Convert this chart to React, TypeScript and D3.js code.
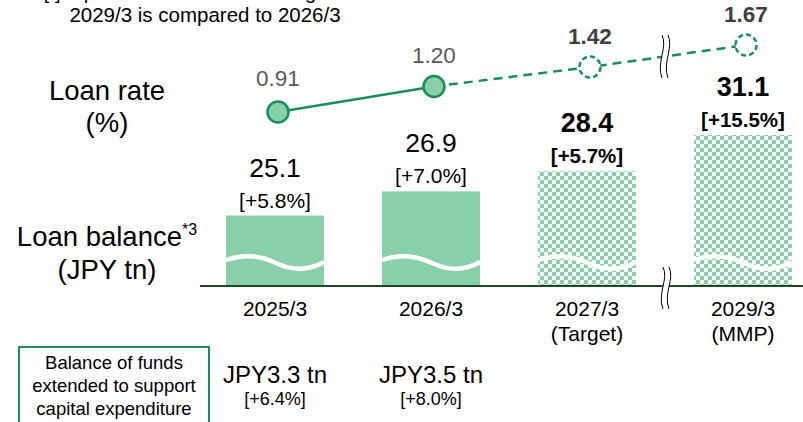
import { scaleLinear, scalePoint, line } from "d3";

const categories = ["2025/3", "2026/3", "2027/3", "2029/3"];
const subLabels = ["", "", "(Target)", "(MMP)"];
const balance = [25.1, 26.9, 28.4, 31.1];
const balanceChange = ["+5.8%", "+7.0%", "+5.7%", "+15.5%"];
const loanRate = [0.91, 1.2, 1.42, 1.67];
const isPlan = [false, false, true, true];
const capexFunds = ["JPY3.3 tn", "JPY3.5 tn"];
const capexChange = ["+6.4%", "+8.0%"];

const W = 803;
const H = 422;
const axisY = 286;
const barW = 98;
const green = "#1a8e59";
const fillGreen = "#89d0aa";
const font = "'Liberation Sans', Arial, sans-serif";

export default function App() {
  const x = scalePoint<string>(categories, [275, 743]);
  const yBar = scaleLinear([19.85, 31.1], [axisY, 135]);
  const yRate = scaleLinear([0.91, 1.67], [112, 45]);

  const pts = loanRate.map((v, i) => [x(categories[i])! + 3, yRate(v)] as [number, number]);
  const path = line();
  const solid = path(pts.slice(0, 2));
  const dashed = path(pts.slice(1));
  const xb = (x(categories[2])! + x(categories[3])!) / 2;

  const wave = "M0,-26 Q25,-35 50,-23 T98,-24";

  return (
    <svg width={W} height={H} style={{ position: "absolute", left: 0, top: 0 }} fontFamily={font}>
      <defs>
        <pattern id="checks" width={8} height={8} patternUnits="userSpaceOnUse">
          <rect width={8} height={8} fill="#fff" />
          <rect width={4} height={4} fill={fillGreen} />
          <rect x={4} y={4} width={4} height={4} fill={fillGreen} />
        </pattern>
      </defs>

      {/* note, first line is cut off at the top like in the slide */}
      <text x={205} y={-1} textAnchor="middle" fontSize={20}>
        [ ] represents the rate of change and
      </text>
      <text x={205} y={22} textAnchor="middle" fontSize={20.5}>
        2029/3 is compared to 2026/3
      </text>

      {/* left titles */}
      <text x={107} y={100} textAnchor="middle" fontSize={27.5}>Loan rate</text>
      <text x={107} y={132} textAnchor="middle" fontSize={27.5}>(%)</text>
      <text x={107} y={246} textAnchor="middle" fontSize={27.5}>
        Loan balance<tspan fontSize={16} dy={-11}>*3</tspan>
      </text>
      <text x={107} y={279} textAnchor="middle" fontSize={27.5}>(JPY tn)</text>

      {/* bars */}
      {balance.map((v, i) => {
        const cx = x(categories[i])!;
        const top = yBar(v);
        const bold = isPlan[i];
        return (
          <g key={categories[i]}>
            <rect x={cx - barW / 2} y={top} width={barW} height={axisY - top}
              fill={isPlan[i] ? "url(#checks)" : fillGreen} />
            <path d={wave} transform={`translate(${cx - barW / 2},${axisY})`}
              fill="none" stroke="#fff" strokeWidth={4.5} />
            <text x={cx} y={top - 39} textAnchor="middle" fontSize={bold ? 27 : 26.5}
              fontWeight={bold ? "bold" : "normal"}>{v.toFixed(1)}</text>
            <text x={cx} y={top - 8} textAnchor="middle" fontSize={bold ? 20.5 : 21}
              fontWeight={bold ? "bold" : "normal"}>[{balanceChange[i]}]</text>
            <text x={cx} y={316} textAnchor="middle" fontSize={21}>{categories[i]}</text>
            {subLabels[i] && (
              <text x={cx} y={341} textAnchor="middle" fontSize={21}>{subLabels[i]}</text>
            )}
          </g>
        );
      })}

      {/* axis */}
      <line x1={200} x2={803} y1={axisY} y2={axisY} stroke="#1d4a22" strokeWidth={2} />
      <g transform={`translate(${xb - 6},${axisY - 19})`}>
        <path d="M4,0 C10,12 -2,26 4,42 L10,42 C4,26 16,12 10,0 Z" fill="#fff" />
        <path d="M4,0 C10,12 -2,26 4,42" fill="none" stroke="#000" strokeWidth={1} />
        <path d="M10,0 C16,12 4,26 10,42" fill="none" stroke="#000" strokeWidth={1} />
      </g>

      {/* loan rate line */}
      {solid && <path d={solid} fill="none" stroke={green} strokeWidth={2.5} />}
      {dashed && (
        <path d={dashed} fill="none" stroke={green} strokeWidth={2.5} strokeDasharray="9 6" />
      )}
      <g transform={`translate(${xb - 7},${35})`}>
        <path d="M4,0 C10,12 -2,28 4,43 L10,43 C4,28 16,12 10,0 Z" fill="#fff" />
        <path d="M4,0 C10,12 -2,28 4,43" fill="none" stroke="#000" strokeWidth={1} />
        <path d="M10,0 C16,12 4,28 10,43" fill="none" stroke="#000" strokeWidth={1} />
      </g>
      {pts.map(([px, py], i) => (
        <g key={"r" + i}>
          <circle cx={px} cy={py} r={10.5} fill={isPlan[i] ? "#fff" : fillGreen}
            stroke={green} strokeWidth={2.5} strokeDasharray={isPlan[i] ? "5 3.2" : undefined} />
          <text x={px} y={py - (i === 0 ? 26 : 23)} textAnchor="middle" fontSize={22.5}
            fill={isPlan[i] ? "#404040" : "#595959"}
            fontWeight={isPlan[i] ? "bold" : "normal"}>{loanRate[i].toFixed(2)}</text>
        </g>
      ))}

      {/* capex box */}
      <rect x={19} y={347} width={190} height={80} fill="none" stroke={green} strokeWidth={2} />
      {["Balance of funds", "extended to support", "capital expenditure"].map((t, i) => (
        <text key={t} x={114} y={369 + i * 23} textAnchor="middle" fontSize={18.5}>{t}</text>
      ))}
      {capexFunds.map((t, i) => (
        <g key={t}>
          <text x={x(categories[i])!} y={383} textAnchor="middle" fontSize={24}>{t}</text>
          <text x={x(categories[i])!} y={405} textAnchor="middle" fontSize={18}>[{capexChange[i]}]</text>
        </g>
      ))}
    </svg>
  );
}
